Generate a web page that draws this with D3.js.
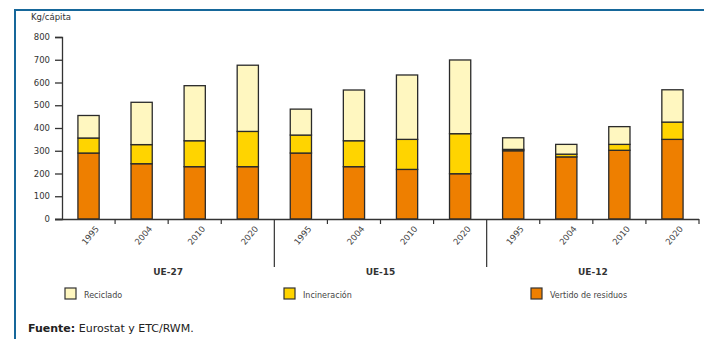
<!DOCTYPE html>
<html>
<head>
<meta charset="utf-8">
<script src="https://cdn.jsdelivr.net/npm/d3@7"></script>
<style>
  body { margin: 0; background: #fff; }
  text { font-family: "DejaVu Sans", Verdana, sans-serif; }
</style>
</head>
<body>
<script>
/* data */
var groups = ["UE-27", "UE-15", "UE-12"]
var years = ["1995", "2004", "2010", "2020"]
var series = ["Vertido de residuos", "Incineración", "Reciclado"]
var vertido    = [290, 243, 230, 230,   290, 230, 218, 199,   300, 273, 302, 350]
var incineracion = [66, 84, 114, 155,   79, 114, 132, 176,    6, 12, 26, 76]
var reciclado  = [99, 186, 242, 291,    114, 223, 283, 324,   51, 43, 78, 142]
var yTicks = [0, 100, 200, 300, 400, 500, 600, 700, 800]

var colors = {"Vertido de residuos": "#ee7f00", "Incineración": "#ffd400", "Reciclado": "#fff7c0"}

var W = 704, H = 339
var svg = d3.select("body").append("svg").attr("width", W).attr("height", H)

// blue frame
svg.append("line").attr("x1", 14).attr("x2", W).attr("y1", 10).attr("y2", 10)
  .attr("stroke", "#16679a").attr("stroke-width", 2)
svg.append("line").attr("x1", 15).attr("x2", 15).attr("y1", 9).attr("y2", H)
  .attr("stroke", "#16679a").attr("stroke-width", 2)

// rows: one per bar
var rows = []
groups.forEach(function(g, gi) {
  years.forEach(function(y, yi) {
    var i = gi * 4 + yi
    rows.push({key: g + "|" + y, group: g, year: y,
      "Vertido de residuos": vertido[i], "Incineración": incineracion[i], "Reciclado": reciclado[i]})
  })
})

var x = d3.scaleBand().domain(rows.map(function(d) {return d.key}))
  .range([62, 699]).paddingInner(0.6).paddingOuter(0.3)
var y = d3.scaleLinear().domain([0, 800]).range([219, 37])

var stack = d3.stack().keys(series)(rows)

svg.append("g").selectAll("g").data(stack).enter().append("g")
  .attr("fill", function(s) {return colors[s.key]})
  .selectAll("rect").data(function(s) {return s}).enter().append("rect")
  .attr("x", function(d) {return x(d.data.key)})
  .attr("width", x.bandwidth())
  .attr("y", function(d) {return y(d[1])})
  .attr("height", function(d) {return y(d[0]) - y(d[1])})
  .attr("stroke", "#2a2a2a").attr("stroke-width", 1.3)

// y axis
var yAxis = svg.append("g").attr("transform", "translate(62,0)")
  .call(d3.axisLeft(y).tickValues(yTicks).tickSize(7).tickPadding(5))
yAxis.select(".domain").attr("stroke", "#333").attr("stroke-width", 1.3)
yAxis.selectAll(".tick line").attr("stroke", "#333").attr("stroke-width", 1.3)
yAxis.selectAll("text").attr("fill", "#333").style("font-size", "8.5px")

svg.append("text").attr("x", 31).attr("y", 20).text("Kg/cápita")
  .attr("fill", "#333").style("font-size", "8.5px")

// x axis baseline and band ticks
svg.append("line").attr("x1", 55).attr("x2", 699).attr("y1", 219.5).attr("y2", 219.5)
  .attr("stroke", "#333").attr("stroke-width", 1.3)
var step = x.step()
rows.forEach(function(d, i) {
  var bx = x(d.key) - step * 0.3 + step   // right edge of band
  var isDivider = (i === 3 || i === 7)
  svg.append("line").attr("x1", bx).attr("x2", bx)
    .attr("y1", 219).attr("y2", isDivider ? 267 : 224)
    .attr("stroke", "#333").attr("stroke-width", 1.2)
})

// year labels
svg.append("g").selectAll("text").data(rows).enter().append("text")
  .attr("transform", function(d) {
    return "translate(" + (x(d.key) + x.bandwidth() / 2 + 11) + ",229) rotate(-50)"
  })
  .attr("text-anchor", "end")
  .attr("fill", "#444").style("font-size", "8.5px")
  .text(function(d) {return d.year})

// group labels
groups.forEach(function(g) {
  var first = x(g + "|1995") - step * 0.3
  var last = x(g + "|2020") - step * 0.3 + step
  svg.append("text").attr("x", (first + last) / 2).attr("y", 275)
    .attr("text-anchor", "middle").attr("fill", "#333")
    .style("font-size", "9px").style("font-weight", "bold").text(g)
})

// legend
var legend = [
  {name: "Reciclado", x: 65},
  {name: "Incineración", x: 284},
  {name: "Vertido de residuos", x: 531}
]
var lg = svg.append("g").selectAll("g").data(legend).enter().append("g")
  .attr("transform", function(d) {return "translate(" + d.x + ",288)"})
lg.append("rect").attr("width", 11).attr("height", 11)
  .attr("fill", function(d) {return colors[d.name]})
  .attr("stroke", "#333").attr("stroke-width", 1.2)
lg.append("text").attr("x", 19).attr("y", 9.5).attr("fill", "#444")
  .style("font-size", "8px").text(function(d) {return d.name})

// source
var src = svg.append("text").attr("x", 28).attr("y", 332).attr("fill", "#222").style("font-size", "11px")
src.append("tspan").style("font-weight", "bold").text("Fuente:")
src.append("tspan").text(" Eurostat y ETC/RWM.")
</script>
</body>
</html>
